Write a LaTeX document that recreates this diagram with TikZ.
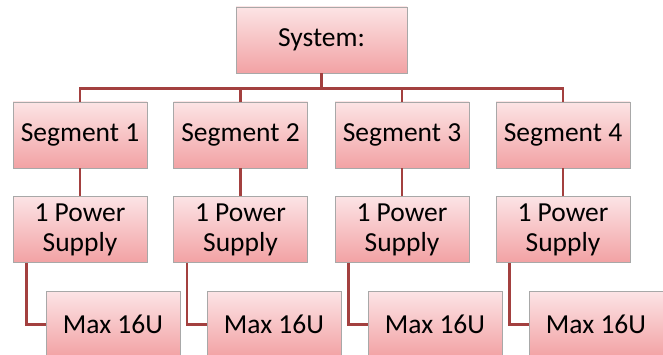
\documentclass[tikz,border=0pt]{standalone}
\usepackage{fontspec}
\setmainfont{Carlito}
\usetikzlibrary{calc}
\begin{document}
\begin{tikzpicture}[x=1pt,y=-1pt,
  box/.style={rectangle, draw=boxborder, line width=0.8pt, top color=boxtop, bottom color=boxbot,
    minimum width=134pt, minimum height=66pt, inner sep=0pt, align=center,
    font=\fontsize{27.5}{30}\selectfont, text=black},
  link/.style={draw=linkred, line width=2.4pt}]
\definecolor{boxtop}{HTML}{FCE4E5}
\definecolor{boxbot}{HTML}{F2A2A4}
\definecolor{boxborder}{HTML}{A8A8A8}
\definecolor{linkred}{HTML}{A3403F}
\useasboundingbox (0,0) rectangle (663,355);
\clip (0,0) rectangle (663,355);
\node[box, minimum width=171pt] (sys) at (321.5,40) {System:};
\node[box] (s1) at (80,135) {Segment 1};
\node[box] (s2) at (240.5,135) {Segment 2};
\node[box] (s3) at (402,135) {Segment 3};
\node[box] (s4) at (563,135) {Segment 4};
\node[box] (p1) at (80,229.5) {1 Power\\Supply};
\node[box] (p2) at (240.5,229.5) {1 Power\\Supply};
\node[box] (p3) at (402,229.5) {1 Power\\Supply};
\node[box] (p4) at (563,229.5) {1 Power\\Supply};
\node[box] (m1) at (113,324.5) {Max 16U};
\node[box] (m2) at (274,324.5) {Max 16U};
\node[box] (m3) at (435,324.5) {Max 16U};
\node[box] (m4) at (596,324.5) {Max 16U};
\coordinate (bus) at ($(sys.south)+(0,15)$);
\foreach \i in {1,2,3,4}{
  \draw[link] (sys.south) -- (bus) -| (s\i.north);
  \draw[link] (s\i.south) -- (p\i.north);
  \draw[link] ([xshift=14pt]p\i.south west) |- (m\i.west);
}
\end{tikzpicture}
\end{document}
